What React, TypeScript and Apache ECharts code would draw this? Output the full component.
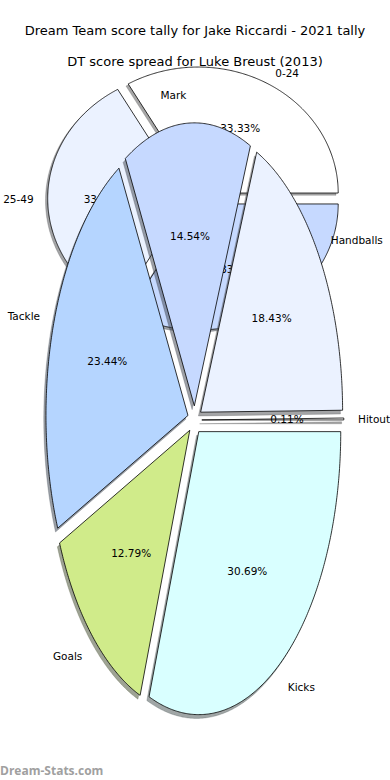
import React, { useEffect, useRef } from "react";
import * as echarts from "echarts";

// ---- data ----
const TITLE = "Dream Team score tally for Jake Riccardi - 2021 tally";
const SUBTITLE = "DT score spread for Luke Breust (2013)";
const WATERMARK = "Dream-Stats.com";

// third back-pie category label is hidden behind the front pie in the reference
const backCategories = ["0-24", "25-49", ""];
const backValues = [1, 1, 1];

const frontCategories = ["Hitout", "Handballs", "Mark", "Tackle", "Goals", "Kicks"];
const frontValues = [0.11, 18.43, 14.54, 23.44, 12.79, 30.69];

// ---- styles ----
const backColors = ["#ffffff", "#ebf2ff", "#c6d9ff"];
const frontColors = ["#ffffff", "#ebf2ff", "#c6d9ff", "#b5d5ff", "#d0eb8a", "#d9ffff"];

const backGeom = { cx: 194.7, cy: 198.5, rx: 140, ry: 126, sdx: -2.2, sdy: 2.2 };
const frontGeom = { cx: 194.7, cy: 420, rx: 142, ry: 283, sdx: -2.2, sdy: 3.8 };
const EXPLODE = 0.05;
const LABEL_DIST = 1.1;
const PCT_DIST = 0.6;
const FONT = "DejaVu Sans";

function shadowColor(hex: string) {
  const r = parseInt(hex.slice(1, 3), 16);
  const g = parseInt(hex.slice(3, 5), 16);
  const b = parseInt(hex.slice(5, 7), 16);
  return `rgba(${Math.round(r * 0.3)},${Math.round(g * 0.3)},${Math.round(b * 0.3)},0.5)`;
}

function wedge(values: number[], i: number, g: any) {
  const total = values.reduce((a, b) => a + b, 0);
  let cum = 0;
  for (let k = 0; k < i; k++) cum += values[k];
  const t1 = (360 * cum) / total;
  const t2 = (360 * (cum + values[i])) / total;
  const mid = ((t1 + t2) / 2) * Math.PI / 180;
  const ox = g.cx + EXPLODE * g.rx * Math.cos(mid);
  const oy = g.cy - EXPLODE * g.ry * Math.sin(mid);
  const pts: number[][] = [[ox, oy]];
  const steps = Math.max(2, Math.ceil((t2 - t1) / 0.5));
  for (let s = 0; s <= steps; s++) {
    const a = (t1 + ((t2 - t1) * s) / steps) * Math.PI / 180;
    pts.push([ox + g.rx * Math.cos(a), oy - g.ry * Math.sin(a)]);
  }
  return { pts, mid, ox, oy, pct: (100 * values[i]) / total };
}

function makeSeries(values: number[], cats: string[], colors: string[], g: any, zBase: number) {
  const data = values.map((v) => [v]);
  const shadow = {
    type: "custom",
    coordinateSystem: "none",
    silent: true,
    z: zBase,
    data,
    renderItem: (params: any) => {
      const i = params.dataIndex;
      const w = wedge(values, i, g);
      const c = shadowColor(colors[i]);
      return {
        type: "polygon",
        shape: { points: w.pts.map((p) => [p[0] + g.sdx, p[1] + g.sdy]) },
        style: { fill: c, stroke: c, lineWidth: 0.5 },
      };
    },
  };
  const wedges = {
    type: "custom",
    coordinateSystem: "none",
    silent: true,
    z: zBase + 1,
    data,
    renderItem: (params: any) => {
      const i = params.dataIndex;
      const w = wedge(values, i, g);
      return {
        type: "polygon",
        shape: { points: w.pts },
        style: { fill: colors[i], stroke: "#000000", lineWidth: 0.8 },
      };
    },
  };
  const texts = {
    type: "custom",
    coordinateSystem: "none",
    silent: true,
    z: zBase + 2,
    data,
    renderItem: (params: any) => {
      const i = params.dataIndex;
      const w = wedge(values, i, g);
      const cx = Math.cos(w.mid);
      const sy = Math.sin(w.mid);
      const left = cx > 0;
      const children: any[] = [];
      if (cats[i]) {
        children.push({
          type: "text",
          x: w.ox + LABEL_DIST * g.rx * cx,
          y: w.oy - LABEL_DIST * g.ry * sy,
          style: {
            text: cats[i],
            fill: "#000",
            fontSize: 10.5,
            fontFamily: FONT,
            align: left ? "left" : "right",
            textAlign: left ? "left" : "right",
            verticalAlign: "middle",
            textVerticalAlign: "middle",
          },
        });
      }
      children.push({
        type: "text",
        x: w.ox + PCT_DIST * g.rx * cx,
        y: w.oy - PCT_DIST * g.ry * sy,
        style: {
          text: w.pct.toFixed(2) + "%",
          fill: "#000",
          fontSize: 10.5,
          fontFamily: FONT,
          align: "center",
          textAlign: "center",
          verticalAlign: "middle",
          textVerticalAlign: "middle",
        },
      });
      return { type: "group", children };
    },
  };
  return [shadow, wedges, texts];
}

export default function App() {
  const ref = useRef<HTMLDivElement>(null);
  useEffect(() => {
    if (!ref.current) return;
    const chart = echarts.init(ref.current, null, { renderer: "svg" });
    const mkText = (text: string, x: number, y: number, size: number, align: string, fill: string, family: string, weight: string = "normal") => ({
      type: "text",
      x,
      y,
      silent: true,
      style: {
        text,
        fill,
        fontSize: size,
        fontFamily: family,
        fontWeight: weight,
        align,
        textAlign: align,
        verticalAlign: "middle",
        textVerticalAlign: "middle",
      },
    });
    chart.setOption({
      animation: false,
      backgroundColor: "#ffffff",
      graphic: [
        mkText(TITLE, 195, 30, 13, "center", "#000", FONT),
        mkText(SUBTITLE, 195, 61, 13, "center", "#000", FONT),
        mkText(WATERMARK, 0, 770, 12, "left", "#a0a0a0", "Open Sans", "bold"),
      ],
      series: [
        ...makeSeries(backValues, backCategories, backColors, backGeom, 1),
        ...makeSeries(frontValues, frontCategories, frontColors, frontGeom, 4),
      ],
    });
    return () => chart.dispose();
  }, []);
  return (
    <div
      ref={ref}
      style={{ position: "fixed", left: 0, top: 0, width: 390, height: 780 }}
    />
  );
}
